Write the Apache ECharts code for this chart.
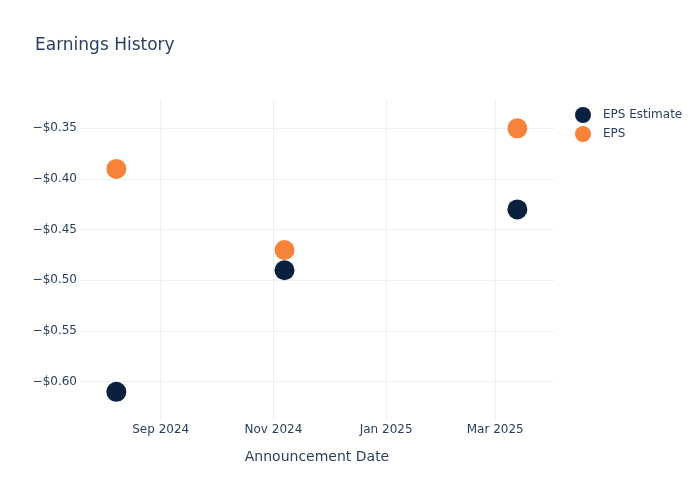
<!DOCTYPE html>
<html>
<head>
<meta charset="UTF-8">
<title>Earnings History</title>
<style>
  html, body { margin: 0; padding: 0; background: #fff; }
  #container { width: 700px; height: 500px; }
</style>
</head>
<body>
<div id="container"></div>
<script src="https://cdn.jsdelivr.net/npm/echarts@6/dist/echarts.min.js"></script>
<script>
// announcement dates and EPS values
var dates = ['2024-08-08', '2024-11-07', '2025-03-13'];
var epsEstimate = [-0.61, -0.49, -0.43];
var epsActual = [-0.39, -0.47, -0.35];
var xTicks = ['2024-09-01', '2024-11-01', '2025-01-01', '2025-03-01'];
var yTicks = [-0.60, -0.55, -0.50, -0.45, -0.40, -0.35];
var monthNames = ['Jan', 'Feb', 'Mar', 'Apr', 'May', 'Jun', 'Jul', 'Aug', 'Sep', 'Oct', 'Nov', 'Dec'];

function ts(s) {
    var p = s.split('-');
    return Date.UTC(+p[0], +p[1] - 1, +p[2]);
}

function pairs(vals) {
    return dates.map(function (d, i) { return [ts(d), vals[i]]; });
}

var textColor = '#2a3f5f';
var gridColor = '#ebf0f8';
var font = 'DejaVu Sans';

var xTickVals = xTicks.map(ts);

var myChart = echarts.init(document.getElementById('container'));
myChart.setOption({
    animation: false,
    backgroundColor: '#fff',
    textStyle: { fontFamily: font },
    title: {
        text: 'Earnings History',
        left: 30,
        top: 32,
        textStyle: { fontFamily: font, fontSize: 17, fontWeight: 'normal', color: textColor }
    },
    legend: {
        orient: 'vertical',
        left: 570,
        top: 102,
        icon: 'circle',
        itemWidth: 16,
        itemHeight: 16,
        itemGap: 3,
        textStyle: { fontFamily: font, fontSize: 12, color: textColor, padding: [0, 0, 0, 7] },
        data: ['EPS Estimate', 'EPS']
    },
    grid: { left: 80, right: 146, top: 100, bottom: 80, containLabel: false },
    xAxis: {
        type: 'value',
        min: Date.UTC(2024, 6, 19, 8),
        max: Date.UTC(2025, 3, 1, 20),
        name: 'Announcement Date',
        nameLocation: 'middle',
        nameGap: 30,
        nameTextStyle: { fontFamily: font, fontSize: 14, color: textColor },
        axisLine: { show: false },
        axisTick: { show: false, customValues: xTickVals },
        axisLabel: {
            customValues: xTickVals,
            margin: 4,
            fontFamily: font,
            fontSize: 12,
            color: textColor,
            formatter: function (v) {
                var d = new Date(v);
                return monthNames[d.getUTCMonth()] + ' ' + d.getUTCFullYear();
            }
        },
        splitLine: { show: true, lineStyle: { color: gridColor, width: 1 } }
    },
    yAxis: {
        type: 'value',
        min: -0.6378,
        max: -0.322,
        axisLine: { show: false },
        axisTick: { show: false, customValues: yTicks },
        axisLabel: {
            customValues: yTicks,
            margin: 3,
            fontFamily: font,
            fontSize: 12,
            color: textColor,
            formatter: function (v) {
                return (v < 0 ? '\u2212' : '') + '$' + Math.abs(v).toFixed(2);
            }
        },
        splitLine: { show: true, lineStyle: { color: gridColor, width: 1 } }
    },
    series: [
        {
            name: 'EPS Estimate',
            type: 'scatter',
            symbolSize: 20,
            itemStyle: { color: '#0b1f3f', opacity: 1 },
            data: pairs(epsEstimate)
        },
        {
            name: 'EPS',
            type: 'scatter',
            symbolSize: 20,
            itemStyle: { color: '#f7833a', opacity: 1 },
            data: pairs(epsActual)
        }
    ]
});
</script>
</body>
</html>
